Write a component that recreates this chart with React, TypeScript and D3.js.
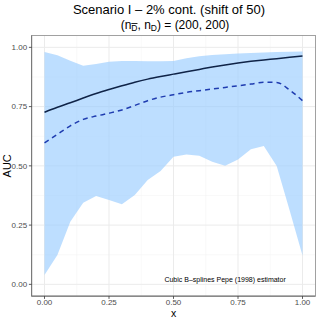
import * as d3 from "d3";

const xs = [0, 0.05, 0.1, 0.15, 0.2, 0.25, 0.3, 0.35, 0.4, 0.45, 0.5, 0.55, 0.6, 0.65, 0.7, 0.75, 0.8, 0.85, 0.9, 0.95, 1];
const bandLow = [0.039, 0.124, 0.264, 0.344, 0.373, 0.356, 0.338, 0.377, 0.44, 0.478, 0.538, 0.548, 0.543, 0.517, 0.5, 0.527, 0.57, 0.584, 0.499, 0.313, 0.122];
const bandHigh = [0.98, 0.967, 0.943, 0.922, 0.93, 0.939, 0.942, 0.942, 0.941, 0.941, 0.942, 0.954, 0.962, 0.968, 0.971, 0.974, 0.976, 0.978, 0.98, 0.981, 0.983];
const trueAuc = [0.726, 0.747, 0.766, 0.786, 0.805, 0.822, 0.838, 0.853, 0.866, 0.877, 0.887, 0.897, 0.907, 0.917, 0.926, 0.934, 0.941, 0.947, 0.952, 0.958, 0.963];
const meanAuc = [0.597, 0.633, 0.669, 0.696, 0.71, 0.722, 0.736, 0.755, 0.775, 0.79, 0.8, 0.81, 0.817, 0.824, 0.831, 0.838, 0.845, 0.853, 0.852, 0.82, 0.775];
const ticks = [0, 0.25, 0.5, 0.75, 1];
const minorTicks = [0.125, 0.375, 0.625, 0.875];

const W = 319;
const H = 319;
const panel = { left: 31.6, right: 315.4, top: 35.5, bottom: 296.2 };

export default function App() {
  const x = d3.scaleLinear().domain([-0.05, 1.05]).range([panel.left, panel.right]);
  const y = d3.scaleLinear().domain([-0.05, 1.05]).range([panel.bottom, panel.top]);

  const rows = xs.map((v, i) => ({ x: v, lo: bandLow[i], hi: bandHigh[i], t: trueAuc[i], m: meanAuc[i] }));
  type Row = (typeof rows)[number];

  const area = d3.area<Row>().x((d) => x(d.x)).y0((d) => y(d.lo)).y1((d) => y(d.hi));
  const solid = d3.line<Row>().x((d) => x(d.x)).y((d) => y(d.t)).curve(d3.curveMonotoneX);
  const dashed = d3.line<Row>().x((d) => x(d.x)).y((d) => y(d.m)).curve(d3.curveMonotoneX);

  const font = "'Liberation Sans', Arial, sans-serif";

  return (
    <svg width={W} height={H} style={{ position: "absolute", left: 0, top: 0 }} fontFamily={font}>
      <rect width={W} height={H} fill="#fff" />
      {/* grid */}
      {minorTicks.map((t) => (
        <g key={"m" + t}>
          <line x1={x(t)} x2={x(t)} y1={panel.top} y2={panel.bottom} stroke="#f2f2f2" strokeWidth={0.5} />
          <line y1={y(t)} y2={y(t)} x1={panel.left} x2={panel.right} stroke="#f2f2f2" strokeWidth={0.5} />
        </g>
      ))}
      {ticks.map((t) => (
        <g key={"g" + t}>
          <line x1={x(t)} x2={x(t)} y1={panel.top} y2={panel.bottom} stroke="#ebebeb" strokeWidth={1} />
          <line y1={y(t)} y2={y(t)} x1={panel.left} x2={panel.right} stroke="#ebebeb" strokeWidth={1} />
        </g>
      ))}
      <path d={area(rows) ?? ""} fill="#99ccff" fillOpacity={0.65} />
      <path d={solid(rows) ?? ""} fill="none" stroke="#0f2347" strokeWidth={1.5} />
      <path d={dashed(rows) ?? ""} fill="none" stroke="#1f3cb0" strokeWidth={1.5} strokeDasharray="5,4" />
      {/* border */}
      <rect x={panel.left} y={panel.top} width={panel.right - panel.left} height={panel.bottom - panel.top} fill="none" stroke="#8a8a8a" strokeWidth={0.8} />
      <line x1={panel.left} x2={panel.left} y1={panel.top} y2={panel.bottom} stroke="#7a7a7a" strokeWidth={1.2} />
      <line x1={panel.left} x2={panel.right} y1={panel.bottom} y2={panel.bottom} stroke="#7a7a7a" strokeWidth={1.2} />
      {/* y ticks */}
      {ticks.map((t) => (
        <g key={"y" + t}>
          <line x1={panel.left - 2.7} x2={panel.left} y1={y(t)} y2={y(t)} stroke="#333" strokeWidth={0.8} />
          <text x={panel.left - 4.5} y={y(t)} dy="0.35em" textAnchor="end" fontSize={8} fill="#4d4d4d">
            {t.toFixed(2)}
          </text>
        </g>
      ))}
      {ticks.map((t) => (
        <g key={"x" + t}>
          <line x1={x(t)} x2={x(t)} y1={panel.bottom} y2={panel.bottom + 2.7} stroke="#333" strokeWidth={0.8} />
          <text x={x(t)} y={panel.bottom + 8.6} textAnchor="middle" fontSize={8} fill="#4d4d4d">
            {t.toFixed(2)}
          </text>
        </g>
      ))}
      <text x={x(0.7)} y={y(0.02)} dy="0.35em" textAnchor="middle" fontSize={7} fill="#000">
        Cubic B–splines Pepe (1998) estimator
      </text>
      {/* labels */}
      <text x={(panel.left + panel.right) / 2} y={317} textAnchor="middle" fontSize={10.5}>x</text>
      <text transform={`translate(11,${(panel.top + panel.bottom) / 2}) rotate(-90)`} textAnchor="middle" fontSize={11}>AUC</text>
      <text x={169} y={13.5} textAnchor="middle" fontSize={13}>Scenario I – 2% cont. (shift of 50)</text>
      <text x={175} y={29} textAnchor="middle" fontSize={12}>
        (n
        <tspan fontSize={8.5} dy={2} textDecoration="overline">D</tspan>
        <tspan dy={-2}>, n</tspan>
        <tspan fontSize={8.5} dy={2}>D</tspan>
        <tspan dy={-2}>) = (200, 200)</tspan>
      </text>
    </svg>
  );
}
